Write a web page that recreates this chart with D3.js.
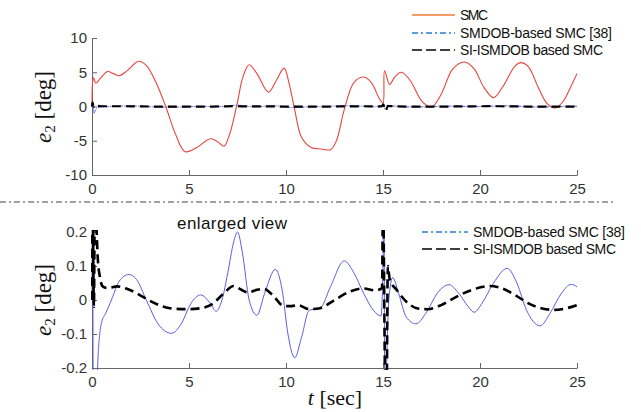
<!DOCTYPE html>
<html>
<head>
<meta charset="utf-8">
<script src="https://cdn.jsdelivr.net/npm/d3@7"></script>
<style>
  body { margin: 0; background: #fff; }
  svg { display: block; }
  .tick text { font-family: "Liberation Sans", Arial, sans-serif; font-size: 15px; fill: #333; }
  .axis path, .axis line { stroke: #666; }
  .lg { font-family: "Liberation Sans", Arial, sans-serif; font-size: 14px; fill: #111; }
</style>
</head>
<body>
<svg id="chart" width="641" height="412"></svg>
<script>
// time axis ticks
const xTicks = [0, 5, 10, 15, 20, 25];
const yTicksTop = [-10, -5, 0, 5, 10];
const yTicksBottom = [-0.2, -0.1, 0, 0.1, 0.2];

const seriesNames = ["SMC", "SMDOB-based SMC [38]", "SI-ISMDOB based SMC"];
const nameWidths = [28, 152, 143];

// SMC (red), [deg]
const smcT = [0, 0.03, 0.08, 0.2, 0.4, 0.8, 1.1, 1.4, 1.8, 2.4, 2.8, 3.3, 3.8, 4.3, 4.8, 5.4, 6.1, 6.5, 6.8, 7.1, 7.45,
  7.8, 8.1, 8.5, 9.1, 9.5, 9.9, 10.15, 10.45, 10.8, 11.3, 11.8, 12.3, 12.6, 13.0, 13.5, 14.0, 14.4, 14.8, 15.0,
  15.08, 15.35, 15.6, 15.95, 16.4, 17.0, 17.5, 18.0, 18.6, 19.2, 19.7, 20.2, 20.7, 21.2, 21.8, 22.1, 22.5, 23.0,
  23.5, 23.9, 24.3, 24.7, 25];
const smcV = [0, 3.5, 4.2, 3.4, 4.0, 5.1, 4.8, 4.5, 5.2, 6.6, 6.0, 3.5, 0, -4.0, -6.6, -6.0, -4.7, -5.2, -5.8, -4.0, 0,
  4.5, 6.1, 4.8, 2.1, 3.8, 5.6, 3.5, -0.5, -4.5, -6.0, -6.2, -6.3, -5.0, -0.5, 3.5, 4.3, 3.5, 1.2, 0.5,
  5.2, 3.2, 4.3, 5.0, 3.8, 0.8, -0.1, 1.8, 5.5, 6.5, 5.5, 2.8, 1.3, 3.0, 5.9, 6.4, 5.8, 2.8,
  0.3, -0.2, 0.8, 3.0, 4.8];

// SMDOB-based SMC (blue)
const smdobT = [0, 0.02, 0.06, 0.1, 0.18, 0.29, 0.4, 0.5, 0.7, 1.0, 1.4, 1.9, 2.3, 2.8, 3.4, 4.1, 4.6, 5.1, 5.6, 6.1,
  6.4, 6.7, 7.0, 7.3, 7.5, 7.75, 8.1, 8.5, 8.9, 9.45, 9.8, 10.1, 10.45, 10.8, 11.2, 11.75, 12.3, 13.0, 13.5, 14.0,
  14.5, 14.9, 15.0, 15.04, 15.1, 15.18, 15.3, 15.5, 15.8, 16.2, 16.7, 17.2, 17.8, 18.4, 18.9, 19.4, 19.7, 20.1,
  20.7, 21.4, 21.9, 22.4, 23.1, 23.6, 24.2, 24.7, 25];
const smdobV = [0, 0.5, -0.3, -1.0, -0.5, -0.2, -0.1, -0.065, -0.04, 0.0, 0.055, 0.075, 0.06, 0.0, -0.07, -0.098, -0.07, -0.01, 0.015, -0.01,
  -0.033, 0.0, 0.08, 0.17, 0.2, 0.14, 0.0, -0.045, 0.02, 0.09, 0.03, -0.1, -0.17, -0.11, -0.03, -0.025, 0.04, 0.115, 0.08, 0.02,
  -0.03, -0.047, 0.1, 0.4, -0.4, -0.2, 0.0, 0.066, 0.02, -0.05, -0.07, -0.04, 0.02, 0.045, 0.02, -0.02, -0.036, -0.01,
  0.05, 0.093, 0.05, -0.03, -0.076, -0.04, 0.02, 0.046, 0.039];

// SI-ISMDOB based SMC (black dashed)
const siT = [0, 0.03, 0.07, 0.1, 0.14, 0.22, 0.3, 0.4, 0.55, 0.8, 1.3, 1.8, 2.3, 2.9, 3.6, 4.3, 5.0, 5.6, 6.2, 6.8,
  7.3, 7.7, 8.05, 8.5, 8.85, 9.3, 9.9, 10.3, 10.6, 11.2, 11.75, 12.5, 13.3, 14.0, 14.6, 14.95, 15.0, 15.08, 15.15,
  15.25, 15.35, 15.7, 16.3, 16.8, 17.3, 18.0, 18.8, 19.6, 20.5, 21.1, 21.8, 22.5, 23.2, 23.8, 24.4, 25];
const siV = [0, 0.6, 0.1, -0.02, 0.25, 0.22, 0.12, 0.07, 0.04, 0.035, 0.04, 0.033, 0.02, 0.0, -0.018, -0.026, -0.027, -0.024, -0.012, 0.02,
  0.041, 0.03, 0.022, 0.03, 0.033, 0.015, -0.018, -0.018, -0.015, -0.027, -0.024, 0.0, 0.025, 0.034, 0.028, 0.035, 0.3, -0.1, -0.6,
  0.1, 0.06, 0.03, -0.01, -0.025, -0.027, -0.015, 0.01, 0.03, 0.041, 0.035, 0.015, -0.01, -0.025, -0.029, -0.025, -0.015];

const svg = d3.select("#chart");

const x = d3.scaleLinear().domain([0, 25]).range([92, 577]);
const yTop = d3.scaleLinear().domain([-10, 10]).range([175, 38]);
const yBot = d3.scaleLinear().domain([-0.2, 0.2]).range([368, 232]);

const fmt = d => String(d).replace("\u2212", "-");

function zip(ts, vs) { return ts.map((t, i) => [t, vs[i]]); }

function panel(y, yTicks, id) {
  const g = svg.append("g");
  const [y0, y1] = y.range();
  g.append("clipPath").attr("id", id)
    .append("rect").attr("x", x(0) - 1).attr("y", y1 - 2)
    .attr("width", x(25) - x(0) + 2).attr("height", y0 - y1 + 4);

  g.append("g").attr("class", "axis")
    .attr("transform", `translate(0,${y0})`)
    .call(d3.axisBottom(x).tickValues(xTicks).tickSizeInner(-5).tickSizeOuter(0).tickPadding(8).tickFormat(fmt));
  g.append("g").attr("class", "axis")
    .attr("transform", `translate(${x(0)},0)`)
    .call(d3.axisLeft(y).tickValues(yTicks).tickSizeInner(-5).tickSizeOuter(0).tickPadding(5).tickFormat(fmt));

  return g.append("g").attr("clip-path", `url(#${id})`);
}

function drawLines(plot, y, withRed) {
  const line = d3.line().x(d => x(d[0])).y(d => y(d[1])).curve(d3.curveMonotoneX);
  if (withRed) {
    const smooth = d3.line().x(d => x(d[0])).y(d => y(d[1])).curve(d3.curveCatmullRom.alpha(0.5));
    plot.append("path").datum(zip(smcT, smcV)).attr("d", smooth)
      .attr("fill", "none").attr("stroke", "#e5453c").attr("stroke-width", 1.1);
  }
  plot.append("path").datum(zip(smdobT, smdobV)).attr("d", line)
    .attr("fill", "none").attr("stroke", "#5a5ee0").attr("stroke-width", 1)
    .attr("stroke-dasharray", withRed ? "4,1,1,1" : null);
  plot.append("path").datum(zip(siT, siV)).attr("d", line)
    .attr("fill", "none").attr("stroke", "#000").attr("stroke-width", withRed ? 2.2 : 2.6)
    .attr("stroke-dasharray", "9,5");
}

const topPlot = panel(yTop, yTicksTop, "clipTop");
drawLines(topPlot, yTop, true);
const botPlot = panel(yBot, yTicksBottom, "clipBot");
drawLines(botPlot, yBot, false);

// y labels
function yLabel(cx, cy) {
  const t = svg.append("text")
    .attr("transform", `translate(${cx},${cy}) rotate(-90)`)
    .attr("text-anchor", "middle")
    .attr("font-family", "'Liberation Serif','DejaVu Serif',serif")
    .attr("font-size", 23).attr("fill", "#111");
  t.append("tspan").attr("font-style", "italic").text("e");
  t.append("tspan").attr("font-size", 15).attr("dy", 4).text("2");
  t.append("tspan").attr("dy", -4).text(" [deg]");
}
yLabel(51, 107);
yLabel(51, 300);

// x label
const xl = svg.append("text").attr("x", 335).attr("y", 405).attr("text-anchor", "middle")
  .attr("font-family", "'Liberation Serif','DejaVu Serif',serif").attr("font-size", 22).attr("fill", "#111");
xl.append("tspan").attr("font-style", "italic").text("t");
xl.append("tspan").text(" [sec]");

// separator
svg.append("line").attr("x1", 0).attr("x2", 615).attr("y1", 202).attr("y2", 202)
  .attr("stroke", "#444").attr("stroke-width", 1.2).attr("stroke-dasharray", "6,3,2,3");

svg.append("text").attr("class", "lg").attr("x", 177).attr("y", 229)
  .style("font-size", "17px").attr("textLength", 110).attr("lengthAdjust", "spacing").text("enlarged view");

// legends
const legStyles = [
  { color: "#f07a35", dash: null, w: 1.3 },
  { color: "#2a7ed2", dash: "6,3,2,3", w: 1.3 },
  { color: "#000", dash: "10,4", w: 1.6 }
];
function legend(x0, x1, tx, rows, idx) {
  idx.forEach((k, i) => {
    const yy = rows[i];
    svg.append("line").attr("x1", x0).attr("x2", x1).attr("y1", yy).attr("y2", yy)
      .attr("stroke", legStyles[k].color).attr("stroke-width", legStyles[k].w)
      .attr("stroke-dasharray", legStyles[k].dash);
    svg.append("text").attr("class", "lg").attr("x", tx).attr("y", yy + 5)
      .attr("textLength", nameWidths[k]).attr("lengthAdjust", "spacing").text(seriesNames[k]);
  });
}
legend(412, 455, 460, [15, 33, 50], [0, 1, 2]);
legend(422, 468, 473, [232, 249], [1, 2]);
</script>
</body>
</html>
